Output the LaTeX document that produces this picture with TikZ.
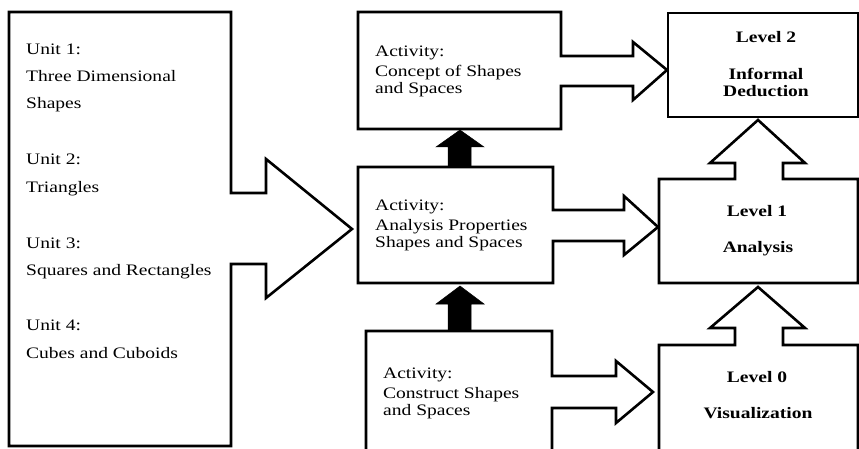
\documentclass[tikz,border=0pt]{standalone}
\usepackage{fontspec}
\setmainfont{Liberation Serif}[FakeStretch=1.22]
\begin{document}
\begin{tikzpicture}[x=1pt,y=-1pt,
  outline/.style={draw=black,line width=2.6pt,line join=miter,fill=white},
  solidarrow/.style={fill=black,draw=black,line width=0.5pt},
  txt/.style={anchor=base west,inner sep=0pt,font=\fontsize{16}{19}\selectfont},
  lvl/.style={anchor=base,inner sep=0pt,font=\fontsize{16}{19}\selectfont\bfseries}]
\useasboundingbox (0,0) rectangle (859,449);
\clip (0,0) rectangle (859,449);
\fill[white] (0,0) rectangle (859,449);

% left units box with big arrow
\draw[outline] (9,12) -- (231,12) -- (231,193) -- (266,193) -- (266,159) -- (352,229)
  -- (266,298) -- (266,264) -- (231,264) -- (231,446) -- (9,446) -- cycle;
\node[txt] (u1) at (26,55) {Unit 1:};
\node[txt] (u1a) at (26,82) {Three Dimensional};
\node[txt] (u1b) at (26,109) {Shapes};
\node[txt] (u2) at (26,165) {Unit 2:};
\node[txt] (u2a) at (26,193) {Triangles};
\node[txt] (u3) at (26,248) {Unit 3:};
\node[txt] (u3a) at (26,275) {Squares and Rectangles};
\node[txt] (u4) at (26,330) {Unit 4:};
\node[txt] (u4a) at (26,358) {Cubes and Cuboids};

% activity boxes with arrows
\draw[outline] (358,12) -- (561,12) -- (561,56) -- (633,56) -- (633,42) -- (667,70)
  -- (633,100) -- (633,86) -- (561,86) -- (561,129) -- (358,129) -- cycle;
\draw[outline] (358,167) -- (553,167) -- (553,210) -- (624,210) -- (624,196) -- (658,227)
  -- (624,255) -- (624,241) -- (553,241) -- (553,283) -- (358,283) -- cycle;
\draw[outline] (366,331) -- (552,331) -- (552,376) -- (616,376) -- (616,361) -- (653,392)
  -- (616,423) -- (616,408) -- (552,408) -- (552,470) -- (366,470) -- cycle;

\node[txt] (a1) at (375,57) {Activity:};
\node[txt] (a1a) at (375,77) {Concept of Shapes};
\node[txt] (a1b) at (375,94) {and Spaces};
\node[txt] (b1) at (375,211) {Activity:};
\node[txt] (b1a) at (375,230) {Analysis Properties};
\node[txt] (b1b) at (375,247) {Shapes and Spaces};
\node[txt] (c1) at (383,378) {Activity:};
\node[txt] (c1a) at (383,398) {Construct Shapes};
\node[txt] (c1b) at (383,415) {and Spaces};

% solid black arrows
\draw[solidarrow] (448,167) -- (448,147) -- (436,147) -- (460,130) -- (484,147) -- (471,147) -- (471,167) -- cycle;
\draw[solidarrow] (448,331) -- (448,304) -- (436,304) -- (460,286) -- (484,304) -- (471,304) -- (471,331) -- cycle;

% level boxes
\draw[outline] (668,13) rectangle (858,117);
\draw[outline] (659,179) -- (735,179) -- (735,163) -- (710,163) -- (758,120) -- (805,163)
  -- (783,163) -- (783,179) -- (858,179) -- (858,283) -- (659,283) -- cycle;
\draw[outline] (659,345) -- (735,345) -- (735,328) -- (710,328) -- (758,287) -- (805,328)
  -- (783,328) -- (783,345) -- (858,345) -- (858,470) -- (659,470) -- cycle;

\node[lvl] (l2) at (766,43) {Level 2};
\node[lvl] (l2a) at (766,80) {Informal};
\node[lvl] (l2b) at (766,97) {Deduction};
\node[lvl] (l1) at (757,217) {Level 1};
\node[lvl] (l1a) at (758,252) {Analysis};
\node[lvl] (l0) at (757,382) {Level 0};
\node[lvl] (l0a) at (758,418) {Visualization};
\end{tikzpicture}
\end{document}
